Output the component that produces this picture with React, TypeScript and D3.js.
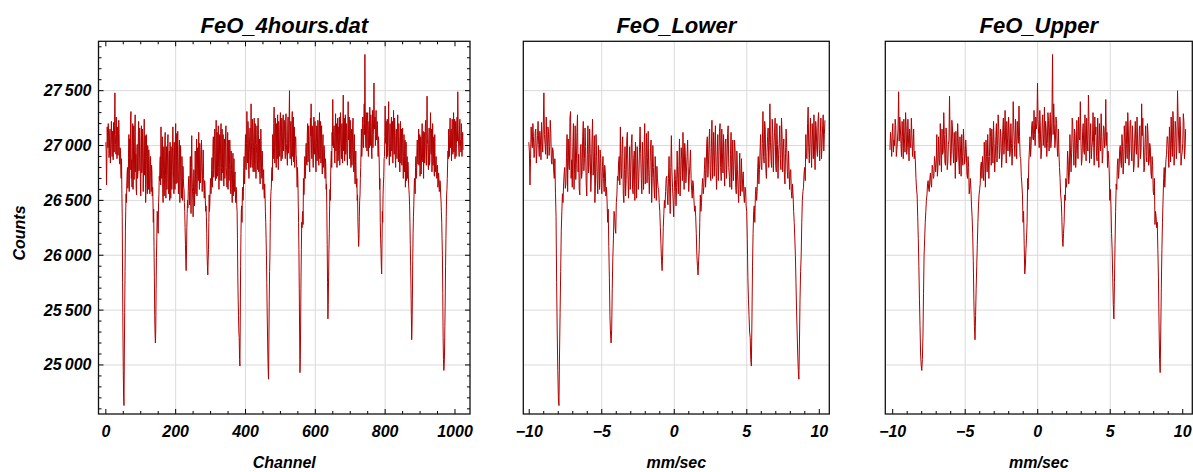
import React from "react";
import * as d3 from "d3";

// raw spectrum, channels 0 ... 511 (velocity sweep up), 16 channels per row
const sweepUpCounts = [
  27030, 26950, 26640, 26880, 27170, 27060, 26980, 27200, 27080, 26890, 26920, 27120, 27150, 26840, 26960, 27090,
  27220, 27010, 26900, 27130, 27060, 26870, 27210, 27040, 26940, 27180, 27480, 27100, 27010, 26920, 27260, 27050,
  26880, 27170, 27130, 26910, 26990, 27230, 27110, 26850, 26830, 26980, 26950, 26760, 26700, 26880, 26560, 26350,
  25750, 25300, 24950, 24700, 24630, 25100, 25480, 25850, 26220, 26400, 26560, 26480, 26640, 26750, 26800, 26610,
  26650, 26890, 27100, 26580, 27060, 26820, 26780, 27250, 27310, 26700, 26870, 26620, 26990, 27200, 26600, 26850,
  27180, 26690, 26830, 27120, 27280, 26760, 26920, 26600, 26550, 26980, 27010, 26700, 26760, 27080, 27220, 26770,
  26880, 27160, 26990, 26660, 26540, 26920, 27180, 26750, 26810, 27150, 26930, 26580, 26740, 27050, 27240, 26730,
  26860, 27090, 26480, 26640, 27100, 26900, 26690, 26560, 27000, 26830, 26600, 26960, 26880, 26620, 26560, 26810,
  26900, 26700, 26580, 26820, 26760, 26540, 26620, 26500, 26300, 26420, 26080, 25800, 25450, 25280, 25200, 25320,
  25700, 25980, 26150, 26400, 26380, 26250, 26200, 26480, 26550, 26720, 26680, 26850, 26900, 26640, 27170, 26800,
  26700, 26980, 27080, 26560, 26480, 26780, 26990, 26540, 26690, 27050, 27120, 26730, 26520, 26760, 26990, 26600,
  26780, 27020, 27100, 26600, 26560, 26880, 26950, 26500, 27030, 26770, 26520, 26990, 26830, 26600, 26720, 26980,
  27170, 26930, 26700, 26560, 27030, 26840, 26600, 26980, 27200, 26650, 26860, 27110, 26660, 26890, 27130, 26720,
  26560, 26780, 26980, 27050, 26480, 26710, 27000, 26800, 26620, 26520, 26900, 26740, 26500, 26810, 26700, 26620,
  26600, 26480, 26400, 26250, 26100, 25950, 25860, 26020, 26250, 26380, 26500, 26430, 26580, 26700, 26720, 26550,
  26460, 26700, 26900, 26620, 26380, 26800, 27090, 26760, 26620, 26500, 26350, 26580, 26780, 26690, 26450, 26620,
  26950, 26700, 26560, 26820, 27060, 26540, 26730, 26980, 26870, 26680, 27120, 26850, 26600, 27020, 26930, 26660,
  26760, 26900, 27050, 26810, 26580, 26730, 26840, 26960, 26700, 26590, 26520, 26680, 26640, 26500, 26400, 26450,
  26350, 26200, 26000, 25900, 25820, 25950, 26050, 26300, 26550, 26400, 26480, 26620, 26700, 26560, 26620, 26780,
  26890, 26620, 26740, 27020, 27080, 26710, 26830, 27040, 27150, 26760, 26680, 26980, 27230, 26700, 26900, 27120,
  26720, 26960, 27180, 26800, 26600, 26910, 27100, 26680, 26860, 27130, 27200, 26800, 26680, 27150, 26940, 26750,
  27100, 26790, 26630, 27030, 27060, 26700, 26850, 27110, 27180, 26800, 26720, 26620, 26920, 27120, 26600, 26840,
  27050, 26680, 26830, 27050, 26950, 26620, 26560, 26950, 26780, 26600, 26480, 26740, 26930, 26540, 26700, 26880,
  26580, 26700, 26760, 26550, 26480, 26620, 26600, 26450, 26400, 26150, 25800, 25600, 25450, 25300, 25250, 25050,
  24990, 25400, 25900, 26200, 26400, 26450, 26300, 26550, 26620, 26500, 26580, 26800, 26900, 26650, 26780, 26950,
  27100, 26810, 26780, 27020, 27310, 26900, 26840, 27220, 27150, 26780, 26700, 26940, 27080, 27160, 26800, 27000,
  27380, 27030, 26860, 26800, 27240, 27100, 26760, 26990, 27120, 27250, 26820, 26760, 27200, 27010, 26700, 26920,
  27020, 27180, 26880, 26780, 27250, 27100, 26760, 26960, 27060, 26740, 26650, 26930, 27150, 26980, 26760, 26700,
  26950, 26800, 26600, 26760, 26780, 26580, 26520, 26650, 26550, 26400, 26300, 26150, 26000, 25750, 25500, 25300,
  25100, 24950, 24870, 25200, 25600, 25850, 26000, 26300, 26500, 26580, 26620, 26750, 26800, 26680, 27100, 26900,
  26880, 27200, 27350, 26980, 26840, 27060, 27250, 26960, 26800, 27200, 27060, 26880, 27280, 26950, 26780, 27220,
  27150, 26960, 26900, 27220, 27300, 26980, 26860, 27120, 27250, 26880, 27000, 27180, 27280, 26950, 27100, 27230,
];

// channels 512 ... 1023 (velocity sweep down)
const sweepDownCounts = [
  27150, 26960, 26880, 27220, 27290, 27020, 26940, 26900, 26820, 27180, 27260, 26930, 27060, 27250, 27500, 27000,
  26880, 27150, 27220, 26930, 26820, 27200, 27310, 26900, 27020, 27260, 26850, 27060, 27170, 26800, 26960, 27080,
  27080, 26920, 26870, 26750, 26620, 26800, 26700, 26500, 26300, 26050, 25700, 25300, 24930, 25050, 25400, 25800,
  26050, 26300, 26250, 26350, 26400, 26280, 26700, 26550, 26580, 26820, 26900, 26700, 26760, 26980, 27020, 26850,
  26820, 27100, 27200, 26850, 26900, 27180, 27060, 26800, 26760, 27000, 27250, 27090, 27380, 26960, 26880, 27180,
  27150, 26880, 26800, 27050, 27260, 26920, 26990, 27220, 27060, 26820, 26760, 27020, 27180, 26860, 26950, 27230,
  27220, 26940, 26820, 27150, 27300, 26880, 27010, 27220, 26840, 27060, 27180, 26860, 26740, 26990, 27100, 26800,
  26850, 27000, 26960, 26780, 26700, 26880, 26820, 26600, 26650, 26400, 26100, 25750, 25420, 25550, 25800, 26050,
  26200, 26450, 26600, 26500, 26750, 26880, 26950, 26800, 27120, 27000, 27420, 27050, 26980, 27160, 27180, 26920,
  26840, 27080, 27290, 26950, 27050, 27200, 26800, 27000, 27250, 26860, 26900, 27170, 27100, 27260, 26820, 27030,
  27300, 27040, 26980, 26880, 27200, 27080, 26840, 27220, 27460, 26950, 27050, 27250, 26860, 27060, 27280, 26920,
  26950, 27200, 27130, 26880, 26820, 27050, 27400, 27050, 27080, 27260, 26880, 27020, 27230, 26920, 26800, 27100,
  27150, 26820, 26960, 27180, 27250, 26940, 26760, 26950, 27100, 26740, 26650, 26860, 26950, 26700, 26620, 26700,
  26500, 26550, 26300, 26200, 26080, 26150, 26350, 26500, 26550, 26700, 26800, 26950, 27150, 26900, 26980, 27200,
  27260, 27050, 26980, 27200, 27380, 27100, 27830, 27280, 27050, 26980, 27300, 27160, 26950, 27230, 27300, 27020,
  26900, 27150, 27220, 26980, 27350, 27100, 27000, 27280, 27200, 26940, 26880, 27150, 27320, 26980, 27100, 27240,
  27570, 27200, 27150, 27260, 27000, 27100, 27320, 27050, 27060, 27220, 27180, 27000, 26900, 27080, 26960, 26850,
  26600, 26700, 26300, 26150, 26050, 25900, 25830, 26100, 26400, 26300, 26550, 26650, 26720, 26880, 26900, 27080,
  27360, 27020, 27080, 27220, 26880, 27050, 27240, 26900, 27010, 27180, 27400, 26980, 26820, 27020, 27200, 26940,
  26900, 27150, 27260, 26950, 27060, 27220, 26840, 27040, 27320, 27050, 26920, 27250, 27140, 26900, 26800, 27080,
  27150, 26950, 26880, 27160, 27280, 27000, 26850, 27200, 27080, 26880, 26760, 27020, 27220, 26840, 27000, 27150,
  26820, 27080, 27160, 26900, 26700, 26900, 27100, 26760, 26900, 27050, 26620, 26860, 27030, 26680, 26780, 26900,
  26700, 26850, 26820, 26650, 26600, 26550, 26450, 26300, 26100, 25900, 25700, 25450, 25230, 25350, 25600, 25950,
  26200, 26350, 26450, 26600, 26700, 26620, 26560, 26800, 26900, 26700, 26740, 26950, 27050, 26880, 26830, 27000,
  27150, 26820, 26900, 27100, 26720, 26950, 27080, 26740, 26860, 27060, 27200, 26880, 26850, 27130, 26700, 26990,
  27120, 26840, 26950, 27170, 27230, 26920, 26820, 27060, 27450, 27050, 27010, 26840, 26780, 27060, 27160, 26820,
  26850, 27100, 27300, 26940, 26920, 27150, 26760, 26950, 27200, 26820, 26880, 27080, 26800, 26720, 27100, 26850,
  26760, 26850, 26900, 26720, 26700, 26800, 26820, 26620, 26650, 26750, 26700, 26580, 26600, 26680, 26650, 26550,
  26500, 26400, 26300, 26150, 26000, 25650, 25250, 25050, 24950, 25000, 25100, 25350, 25600, 25900, 26150, 26350,
  26550, 26600, 26700, 26850, 26950, 26880, 27150, 27000, 26900, 27100, 27250, 26980, 27030, 27150, 26860, 27060,
  27240, 26980, 26920, 27180, 27300, 26940, 27060, 27240, 26880, 27080, 27220, 26900, 27020, 27160, 27260, 27040,
  27490, 27150, 27050, 26960, 26900, 27180, 27240, 27000, 27050, 26940, 27200, 27120, 26900, 27040, 27120, 26960,
];

const halfChannels = 512;
const lowerVelocityRange = [-10.03, 10.39];
const upperVelocityRange = [-10.19, 10.2];

const countTicks = [25000, 25500, 26000, 26500, 27000, 27500];
const channelTicks = [0, 200, 400, 600, 800, 1000];
const velocityTicks = [-10, -5, 0, 5, 10];
const panelTitles = ["FeO_4hours.dat", "FeO_Lower", "FeO_Upper"];
const xLabels = ["Channel", "mm/sec", "mm/sec"];

const W = 1193;
const H = 472;
const plotTop = 41.3;
const plotBottom = 414;
const font = "'Liberation Sans', Arial, Helvetica, sans-serif";
const lineColor = "#b30000";
const gridColor = "#dadada";

type Pt = { x: number; c: number };

const fmtCount = (v: number) =>
  `${Math.floor(v / 1000)}\u2009${String(v % 1000).padStart(3, "0")}`;
const fmtVel = (v: number) => (v < 0 ? `\u2212${Math.abs(v)}` : `${v}`);

function Panel(props: {
  left: number;
  right: number;
  xDomain: [number, number];
  xTicks: number[];
  xMinor: number[];
  fmtX: (v: number) => string;
  title: string;
  xLabel: string;
  points: Pt[];
  full: boolean;
  y: d3.ScaleLinear<number, number>;
}) {
  const { left, right, xDomain, xTicks, xMinor, fmtX, title, xLabel, points, full, y } = props;
  const x = d3.scaleLinear().domain(xDomain).range([left, right]);
  const line = d3
    .line<Pt>()
    .x((d) => x(d.x))
    .y((d) => y(d.c));
  const yMinor = d3.range(24600, 27950, 100).filter((v) => v % 500 !== 0);
  const gridXs = xTicks.slice(1, -1);
  const major = 5;
  const minor = 3;
  const cx = (left + right) / 2;

  return (
    <g>
      {countTicks.map((t) => (
        <line key={"gy" + t} x1={left} x2={right} y1={y(t)} y2={y(t)} stroke={gridColor} strokeWidth={1} />
      ))}
      {gridXs.map((t) => (
        <line key={"gx" + t} x1={x(t)} x2={x(t)} y1={plotTop} y2={plotBottom} stroke={gridColor} strokeWidth={1} />
      ))}
      <path d={line(points) || ""} fill="none" stroke={lineColor} strokeWidth={1} strokeLinejoin="round" />

      {xTicks.map((t) => (
        <line key={"bt" + t} x1={x(t)} x2={x(t)} y1={plotBottom} y2={plotBottom - major} stroke="#000" strokeWidth={1} />
      ))}
      {xMinor.map((t) => (
        <line key={"bm" + t} x1={x(t)} x2={x(t)} y1={plotBottom} y2={plotBottom - minor} stroke="#000" strokeWidth={1} />
      ))}
      {full && (
        <g>
          {xTicks.map((t) => (
            <line key={"tt" + t} x1={x(t)} x2={x(t)} y1={plotTop} y2={plotTop + major} stroke="#000" strokeWidth={1} />
          ))}
          {xMinor.map((t) => (
            <line key={"tm" + t} x1={x(t)} x2={x(t)} y1={plotTop} y2={plotTop + minor} stroke="#000" strokeWidth={1} />
          ))}
          {countTicks.map((t) => (
            <g key={"yt" + t}>
              <line x1={left} x2={left + major} y1={y(t)} y2={y(t)} stroke="#000" strokeWidth={1} />
              <line x1={right} x2={right - major} y1={y(t)} y2={y(t)} stroke="#000" strokeWidth={1} />
              <text x={left - 7} y={y(t) + 5.5} textAnchor="end" fontSize={16} fontWeight="bold" fontStyle="italic">
                {fmtCount(t)}
              </text>
            </g>
          ))}
          {yMinor.map((t) => (
            <g key={"ym" + t}>
              <line x1={left} x2={left + minor} y1={y(t)} y2={y(t)} stroke="#000" strokeWidth={1} />
              <line x1={right} x2={right - minor} y1={y(t)} y2={y(t)} stroke="#000" strokeWidth={1} />
            </g>
          ))}
        </g>
      )}

      {xTicks.map((t) => (
        <text key={"xl" + t} x={x(t)} y={437} textAnchor="middle" fontSize={16} fontWeight="bold" fontStyle="italic">
          {fmtX(t)}
        </text>
      ))}

      <rect x={left} y={plotTop} width={right - left} height={plotBottom - plotTop} fill="none" stroke="#111" strokeWidth={1.3} />

      <text x={cx} y={33} textAnchor="middle" fontSize={22} fontWeight="bold" fontStyle="italic">
        {title}
      </text>
      <text x={cx} y={468} textAnchor="middle" fontSize={16} fontWeight="bold" fontStyle="italic">
        {xLabel}
      </text>
    </g>
  );
}

export default function App() {
  const y = d3.scaleLinear().domain([24553, 27950]).range([plotBottom, plotTop]);
  const lowerVel = d3.scaleLinear().domain([0, halfChannels - 1]).range(lowerVelocityRange);
  const upperVel = d3.scaleLinear().domain([0, halfChannels - 1]).range(upperVelocityRange);

  const rawPoints: Pt[] = [
    ...sweepUpCounts.map((c, k) => ({ x: k, c })),
    ...sweepDownCounts.map((c, k) => ({ x: halfChannels + k, c })),
  ];
  // lower half as measured; upper half folded back onto the same velocity axis
  const lowerPoints: Pt[] = sweepUpCounts.map((c, k) => ({ x: lowerVel(k), c }));
  const upperPoints: Pt[] = sweepDownCounts
    .map((c, k) => ({ x: upperVel(halfChannels - 1 - k), c }))
    .reverse();

  const velMinor = d3.range(-10, 11, 1).filter((v) => v % 5 !== 0);
  const chMinor = d3.range(0, 1001, 50).filter((v) => v % 200 !== 0);

  return (
    <svg
      width={W}
      height={H}
      style={{ position: "absolute", left: 0, top: 0, background: "#fff", fontFamily: font }}
    >
      <rect width={W} height={H} fill="#fff" />
      <Panel
        left={98.5}
        right={470}
        xDomain={[-21, 1043]}
        xTicks={channelTicks}
        xMinor={chMinor}
        fmtX={(v) => `${v}`}
        title={panelTitles[0]}
        xLabel={xLabels[0]}
        points={rawPoints}
        full={true}
        y={y}
      />
      <Panel
        left={523.3}
        right={829.3}
        xDomain={[-10.41, 10.69]}
        xTicks={velocityTicks}
        xMinor={velMinor}
        fmtX={fmtVel}
        title={panelTitles[1]}
        xLabel={xLabels[1]}
        points={lowerPoints}
        full={false}
        y={y}
      />
      <Panel
        left={885.3}
        right={1192.3}
        xDomain={[-10.51, 10.66]}
        xTicks={velocityTicks}
        xMinor={velMinor}
        fmtX={fmtVel}
        title={panelTitles[2]}
        xLabel={xLabels[2]}
        points={upperPoints}
        full={false}
        y={y}
      />
      <text
        transform="translate(25,233) rotate(-90)"
        textAnchor="middle"
        fontSize={16}
        fontWeight="bold"
        fontStyle="italic"
      >
        Counts
      </text>
    </svg>
  );
}
